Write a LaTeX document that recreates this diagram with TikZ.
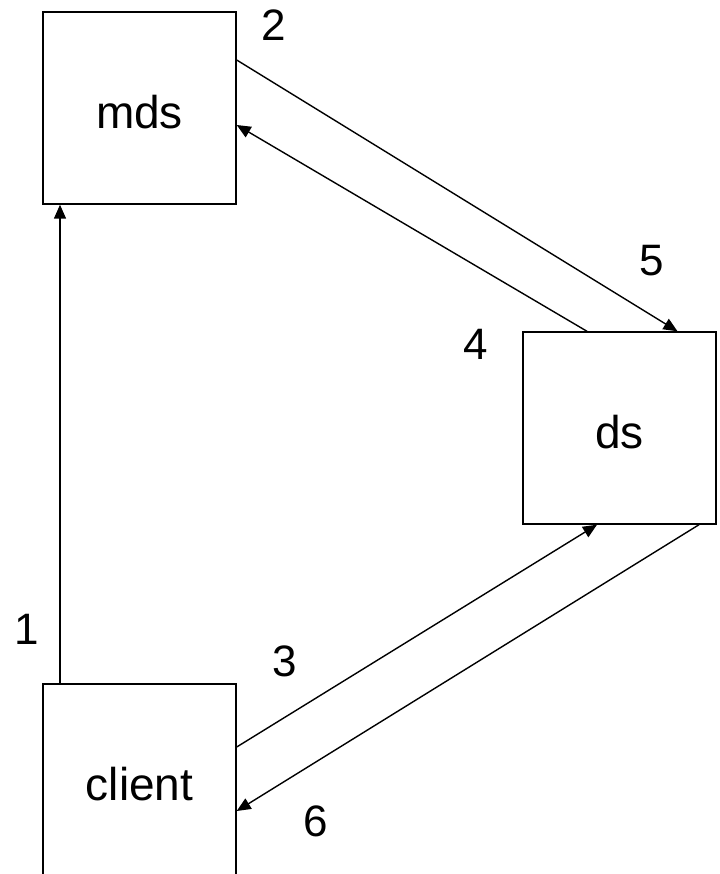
\documentclass[tikz,border=0pt]{standalone}
\usepackage{fontspec}
\setmainfont{Liberation Sans}
\usetikzlibrary{arrows.meta}
\begin{document}
\begin{tikzpicture}[x=1pt,y=-1pt,
  box/.style={draw,line width=1.4pt,minimum width=193pt,minimum height=192pt,inner sep=0pt,
    font=\fontsize{46}{52}\selectfont,text height=41pt,text depth=0pt},
  lbl/.style={font=\fontsize{44}{50}\selectfont,inner sep=0pt},
  conn/.style={line width=1.4pt,-{Triangle[length=14pt,width=12pt]}}]
\useasboundingbox (0,0) rectangle (719,874);
\node[box] (mds) at (139.5,108) {mds};
\node[box] (ds) at (619.5,428) {ds};
\node[box] (client) at (139.5,780) {client};
% arrows
\draw[conn] ([xshift=-79.5pt]client.north) -- ([xshift=-79.5pt]mds.south);
\draw[conn] ([yshift=48pt]mds.east) -- ([xshift=58pt]ds.north);
\draw[conn] ([xshift=-32.5pt]ds.north) -- ([yshift=-17pt]mds.east);
\draw[conn] ([yshift=33pt]client.east) -- ([xshift=-22.5pt]ds.south);
\draw[conn] ([xshift=79.5pt]ds.south) -- ([yshift=-31pt]client.east);
% labels
\node[lbl] (l1) at (27,629) {1};
\node[lbl] (l2) at (274,25) {2};
\node[lbl] (l3) at (285,661) {3};
\node[lbl] (l4) at (476,344) {4};
\node[lbl] (l5) at (652,261) {5};
\node[lbl] (l6) at (316,821) {6};
\end{tikzpicture}
\end{document}
